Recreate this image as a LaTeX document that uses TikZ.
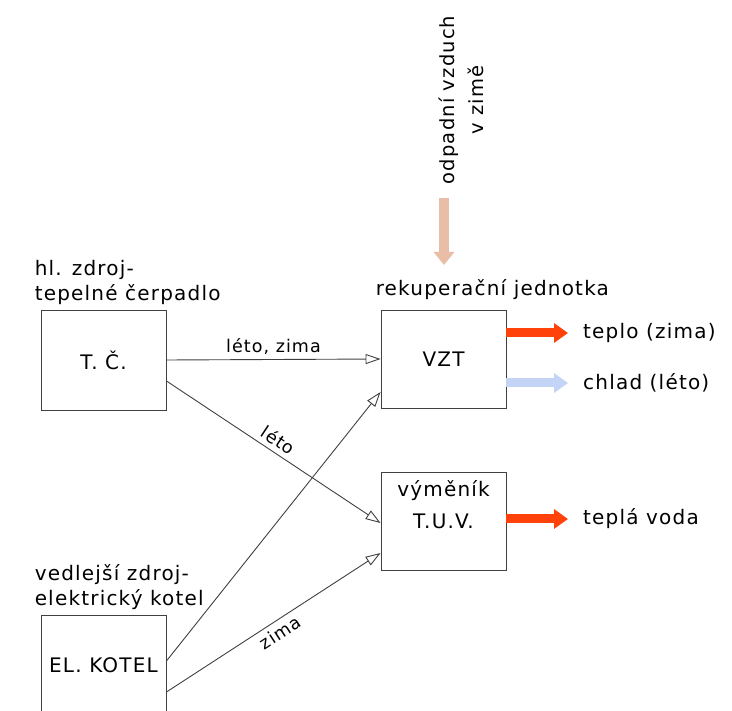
\documentclass[tikz,border=0pt]{standalone}
\usepackage{fontspec}
\setmainfont[LetterSpace=6]{DejaVu Sans}
\usetikzlibrary{arrows.meta,positioning}
\definecolor{heatred}{RGB}{255,66,10}
\definecolor{coolblue}{RGB}{196,212,246}
\definecolor{airpeach}{RGB}{234,190,166}

\begin{document}
\begin{tikzpicture}[x=1pt,y=-1pt,
  unitbox/.style={draw=black!75,line width=0.9pt,minimum width=125pt,minimum height=98pt,font=\fontsize{20}{25}\selectfont},
  notetext/.style={font=\fontsize{20}{25}\selectfont,align=left,inner sep=0pt},
  feed/.style={draw=black!75,line width=0.9pt,-{Triangle[open,length=15pt,width=10pt]}},
  feedlabel/.style={font=\fontsize{17.5}{20}\selectfont,inner sep=5pt},
  outflow/.style={line width=9pt,-{Triangle[length=14pt,width=19pt]}}]
  \useasboundingbox (0,0) rectangle (732,711);

  %sources
  \node[unitbox,minimum height=100pt] (tc) at (103.5,360) {T. Č.};
  \node[notetext,above right=5pt and -6pt of tc.north west] (tclabel) {hl. zdroj-\\tepelné čerpadlo};
  \node[unitbox,minimum height=100pt] (el) at (103.5,665) {EL. KOTEL};
  \node[notetext,above right=5pt and -6pt of el.north west] (ellabel) {vedlejší zdroj-\\elektrický kotel};

  %consumers
  \node[unitbox] (vzt) at (443.5,359) {VZT};
  \node[notetext,above right=10pt and -5pt of vzt.north west] (rek) {rekuperační jednotka};
  \node[unitbox,label={[font=\fontsize{20}{25}\selectfont,anchor=north,inner sep=9pt]north:výměník}] (tuv) at (443.5,521) {T.U.V.};

  %waste air
  \node[notetext,align=center,font=\fontsize{19.5}{29}\selectfont,rotate=90] (odp) at (461,100) {odpadní vzduch\\v zimě};
  \coordinate (airin) at (444,198);
  \draw[outflow,airpeach,line width=10pt,-{Triangle[length=13pt,width=20pt]}] (airin) -- ([yshift=14pt]airin |- rek.north);

  %feeds
  \draw[feed] (tc.east) -- node[feedlabel,above]{léto, zima} (vzt.west);
  \draw[feed] ([yshift=-21pt]tc.east) -- node[feedlabel,above,sloped,pos=0.49]{léto} ([yshift=-2pt]tuv.west);
  \draw[feed] ([yshift=4pt]el.east) -- ([yshift=-33pt]vzt.west);
  \draw[feed] ([yshift=-27pt]el.east) -- node[feedlabel,below,sloped]{zima} ([yshift=-32pt]tuv.west);

  %outputs
  \node[notetext,anchor=west] (teplo) at (583,333) {teplo (zima)};
  \node[notetext,anchor=west] (chlad) at (583,383) {chlad (léto)};
  \node[notetext,anchor=west] (voda) at (583,519) {teplá voda};
  \draw[outflow,heatred,shorten >=15pt] ([yshift=26pt]vzt.east) -- (teplo.west);
  \draw[outflow,coolblue,shorten >=15pt] ([yshift=-24pt]vzt.east) -- (chlad.west);
  \draw[outflow,heatred,shorten >=15pt] ([yshift=2pt]tuv.east) -- (voda.west);
\end{tikzpicture}
\end{document}
